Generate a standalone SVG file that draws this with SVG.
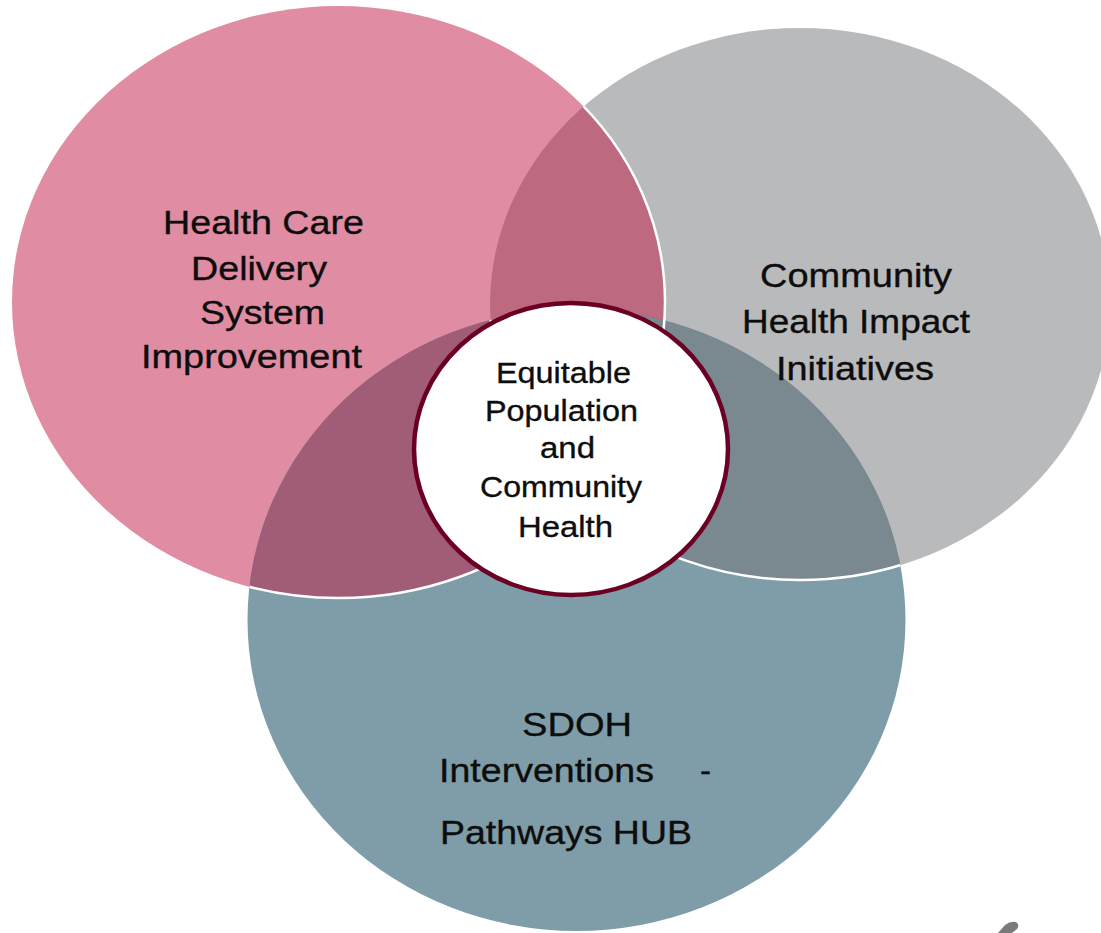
<svg xmlns="http://www.w3.org/2000/svg" width="1101" height="933" viewBox="0 0 1101 933">
  <style>
    .lbl { font-family: "Liberation Sans", Arial, sans-serif; fill: #0d0d0d; stroke: #0d0d0d; stroke-width: 0.35; }
    .outer { font-size: 33px; }
    .inner { font-size: 30px; }
    .edge { fill: none; stroke: #ffffff; stroke-width: 2.5; }
  </style>
  <defs>
    <clipPath id="clipPink"><ellipse cx="338.5" cy="302" rx="326.5" ry="296"/></clipPath>
    <clipPath id="clipGray"><ellipse cx="800" cy="304" rx="310" ry="276"/></clipPath>
    <clipPath id="clipTeal"><ellipse cx="576.5" cy="620" rx="329" ry="311"/></clipPath>
    <clipPath id="clipGrayTeal">
      <ellipse cx="800" cy="304" rx="310" ry="276"/>
      <ellipse cx="576.5" cy="620" rx="329" ry="311"/>
    </clipPath>
  </defs>
  <rect x="0" y="0" width="1101" height="933" fill="#ffffff"/>

  <g id="node-health-care">
    <ellipse cx="338.5" cy="302" rx="326.5" ry="296" fill="#E08CA3"/>
  </g>
  <g id="node-community-impact">
    <ellipse cx="800" cy="304" rx="310" ry="276" fill="#B9BABC"/>
  </g>
  <g id="node-sdoh">
    <ellipse cx="576.5" cy="620" rx="329" ry="311" fill="#7F9DA8"/>
  </g>

  <g id="overlaps">
    <ellipse cx="800" cy="304" rx="310" ry="276" fill="#BD6A80" clip-path="url(#clipPink)"/>
    <ellipse cx="576.5" cy="620" rx="329" ry="311" fill="#A15C77" clip-path="url(#clipPink)"/>
    <ellipse cx="576.5" cy="620" rx="329" ry="311" fill="#7A8990" clip-path="url(#clipGray)"/>
  </g>

  <g id="connectors">
    <ellipse class="edge" cx="338.5" cy="302" rx="326.5" ry="296" clip-path="url(#clipGrayTeal)"/>
    <ellipse class="edge" cx="800" cy="304" rx="310" ry="276" clip-path="url(#clipTeal)"/>
  </g>

  <g id="node-center">
    <ellipse cx="571" cy="449" rx="157" ry="146" fill="#ffffff" stroke="#6B0024" stroke-width="4.5"/>
    <text class="lbl inner" x="496" y="383" textLength="135" lengthAdjust="spacingAndGlyphs">Equitable</text>
    <text class="lbl inner" x="485" y="421" textLength="153" lengthAdjust="spacingAndGlyphs">Population</text>
    <text class="lbl inner" x="540" y="458" textLength="55" lengthAdjust="spacingAndGlyphs">and</text>
    <text class="lbl inner" x="480" y="497" textLength="162" lengthAdjust="spacingAndGlyphs">Community</text>
    <text class="lbl inner" x="518" y="537" textLength="95" lengthAdjust="spacingAndGlyphs">Health</text>
  </g>

  <g id="label-health-care">
    <text class="lbl outer" x="163" y="234" textLength="201" lengthAdjust="spacingAndGlyphs">Health Care</text>
    <text class="lbl outer" x="191" y="280" textLength="136" lengthAdjust="spacingAndGlyphs">Delivery</text>
    <text class="lbl outer" x="200" y="324" textLength="125" lengthAdjust="spacingAndGlyphs">System</text>
    <text class="lbl outer" x="141" y="368" textLength="221" lengthAdjust="spacingAndGlyphs">Improvement</text>
  </g>

  <g id="label-community-impact">
    <text class="lbl outer" x="760" y="287" textLength="192" lengthAdjust="spacingAndGlyphs">Community</text>
    <text class="lbl outer" x="742" y="333" textLength="228" lengthAdjust="spacingAndGlyphs">Health Impact</text>
    <text class="lbl outer" x="776" y="380" textLength="158" lengthAdjust="spacingAndGlyphs">Initiatives</text>
  </g>

  <g id="label-sdoh">
    <text class="lbl outer" x="522" y="736" textLength="110" lengthAdjust="spacingAndGlyphs">SDOH</text>
    <text class="lbl outer" y="782"><tspan x="439" textLength="215" lengthAdjust="spacingAndGlyphs">Interventions</tspan><tspan x="700">-</tspan></text>
    <text class="lbl outer" x="440" y="844" textLength="252" lengthAdjust="spacingAndGlyphs">Pathways HUB</text>
  </g>

  <path d="M998,933 L1005,925 Q1010,921 1016,922 Q1020,925 1017,929 L1012,933 Z" fill="#7a7a7a"/>
</svg>
